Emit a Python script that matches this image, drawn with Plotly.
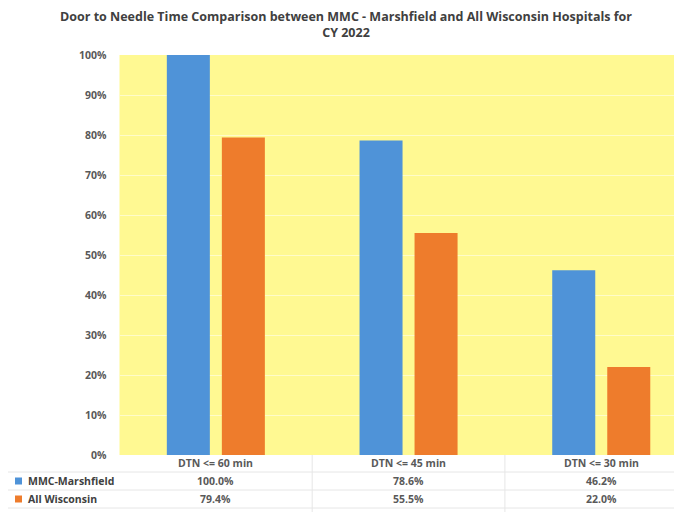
import plotly.graph_objects as go

categories = ["DTN <= 60 min", "DTN <= 45 min", "DTN <= 30 min"]
mmc_values = [100.0, 78.6, 46.2]
wi_values = [79.4, 55.5, 22.0]
series_names = ["MMC-Marshfield", "All Wisconsin"]
y_ticks = [0, 10, 20, 30, 40, 50, 60, 70, 80, 90, 100]

# page body has an 8px margin; lay out in screen pixels and convert
OFF = 8
SW, SH = 682, 512
W, H = SW - OFF, SH - OFF
BLUE = "#4F93D8"
ORANGE = "#EE7C2C"
YELLOW = "#FFF992"
TXT = "#595959"
FONT = "Open Sans"

def px(x):
    return (x - OFF) / W

def py(y):
    return 1 - (y - OFF) / H

fig = go.Figure()
fig.add_trace(go.Bar(x=list(range(3)), y=mmc_values, name=series_names[0],
                     marker=dict(color=BLUE, line=dict(width=0))))
fig.add_trace(go.Bar(x=list(range(3)), y=wi_values, name=series_names[1],
                     marker=dict(color=ORANGE, line=dict(width=0))))

cat_w = 192.7
x0 = 119.5
right_clip = (x0 + 3 * cat_w - SW) / cat_w

fig.update_layout(
    template="none",
    width=W, height=H,
    margin=dict(l=0, r=0, t=0, b=0, pad=0),
    paper_bgcolor="white",
    plot_bgcolor=YELLOW,
    showlegend=False,
    barmode="group",
    bargap=0.429,
    bargroupgap=0.218,
    font=dict(family=FONT, color=TXT),
    xaxis=dict(domain=[px(x0), 1], range=[-0.5, 2.5 - right_clip],
               showticklabels=False, showgrid=False, zeroline=False,
               showline=False, ticks="", automargin=False, fixedrange=True),
    yaxis=dict(domain=[py(455), py(55)], range=[0, 100],
               tickvals=y_ticks, ticktext=[f"{v}%" for v in y_ticks],
               tickfont=dict(size=10.5, color=TXT, family=FONT, weight="bold"),
               ticks="", ticklabelstandoff=12, automargin=False,
               showgrid=True, gridcolor="rgba(255,255,255,0.5)", gridwidth=1,
               zeroline=False, showline=False),
)

fig.add_annotation(
    text="Door to Needle Time Comparison between MMC - Marshfield and All Wisconsin Hospitals for<br>CY 2022",
    xref="paper", yref="paper", x=px(346), y=py(6), xanchor="center", yanchor="top",
    showarrow=False, align="center",
    font=dict(size=12.5, color="#404040", family=FONT, weight="bold"),
)

# data table grid lines
line_col = "#E6E6E6"
for yy in [472, 490, 508]:
    fig.add_shape(type="line", xref="paper", yref="paper", x0=px(OFF), x1=1,
                  y0=py(yy), y1=py(yy), line=dict(color=line_col, width=1))
for xx in [x0 + cat_w, x0 + 2 * cat_w]:
    fig.add_shape(type="line", xref="paper", yref="paper", x0=px(xx), x1=px(xx),
                  y0=py(455), y1=0, line=dict(color=line_col, width=1))

row_y = [463, 481, 499]
for i, c in enumerate(categories):
    fig.add_annotation(text=c, xref="x", yref="paper", x=i, y=py(row_y[0]),
                       showarrow=False, xanchor="center", yanchor="middle",
                       font=dict(size=10.5, color=TXT, family=FONT, weight="bold"))
for vals, ry in [(mmc_values, row_y[1]), (wi_values, row_y[2])]:
    for i, v in enumerate(vals):
        fig.add_annotation(text=f"{v:.1f}%", xref="x", yref="paper", x=i, y=py(ry),
                           showarrow=False, xanchor="center", yanchor="middle",
                           font=dict(size=10.5, color=TXT, family=FONT, weight="bold"))

for name, col, ry in [(series_names[0], BLUE, row_y[1]), (series_names[1], ORANGE, row_y[2])]:
    fig.add_shape(type="rect", xref="paper", yref="paper",
                  x0=px(15), x1=px(22), y0=py(ry + 3.5), y1=py(ry - 3.5),
                  fillcolor=col, line=dict(width=0))
    fig.add_annotation(text=name, xref="paper", yref="paper", x=px(26), y=py(ry),
                       showarrow=False, xanchor="left", yanchor="middle",
                       font=dict(size=10.5, color="#404040", family=FONT, weight="bold"))

fig.write_html("out.html")
